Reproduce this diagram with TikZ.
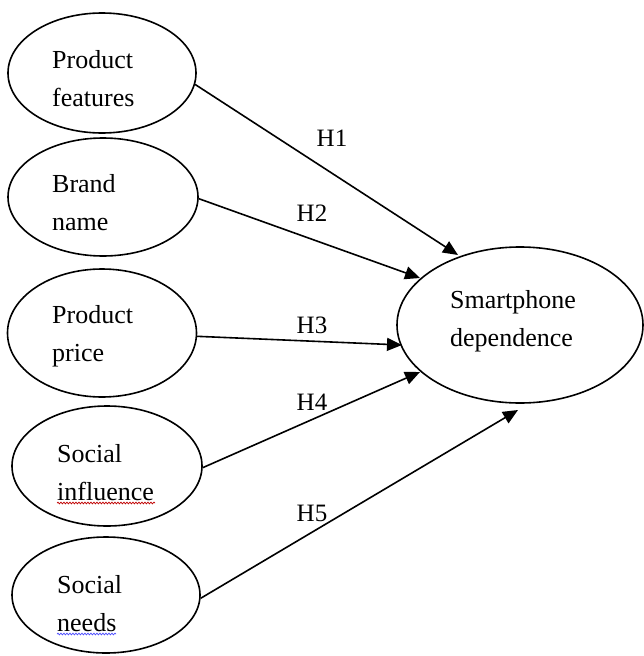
\documentclass[tikz,border=0pt]{standalone}
\usepackage{fontspec}
\setmainfont{Liberation Serif}
\usetikzlibrary{arrows.meta,shapes.geometric,decorations.pathmorphing}
\begin{document}
\begin{tikzpicture}[x=1pt,y=-1pt,
  oval/.style={draw, ellipse, line width=1.6pt, inner sep=0pt},
  lbl/.style={font=\fontsize{26}{38}\selectfont, align=left, inner sep=0pt, anchor=west},
  hlbl/.style={font=\fontsize{25}{30}\selectfont, inner sep=0pt},
  arr/.style={line width=1.6pt, -{Triangle[length=15pt,width=13pt]}},
  wavy/.style={line width=0.7pt, decorate, decoration={snake, amplitude=0.9pt, segment length=3pt}}
]
\useasboundingbox (0,0) rectangle (644,656);
% left ellipses
\node[oval, minimum width=188pt, minimum height=120pt] (pf) at (102,73) {};
\node[oval, minimum width=190pt, minimum height=118pt] (bn) at (103,197) {};
\node[oval, minimum width=189pt, minimum height=128pt] (pp) at (102,333) {};
\node[oval, minimum width=190pt, minimum height=120pt] (si) at (107,466) {};
\node[oval, minimum width=188pt, minimum height=116pt] (sn) at (106,595) {};
% right ellipse
\node[oval, minimum width=246pt, minimum height=156pt] (sd) at (520,325) {};
% texts
\node[lbl] (pft) at (52,79) {Product\\features};
\node[lbl] (bnt) at (52,203) {Brand\\name};
\node[lbl] (ppt) at (52,336) {Product\\price};
\node[lbl] (sit) at (57,473) {Social\\influence};
\node[lbl] (snt) at (57,604) {Social\\needs};
\node[lbl] (sdt) at (450,321) {Smartphone\\dependence};
% spell-check underlines
\draw[wavy, red!75!black] (57,503) -- (155,503);
\draw[wavy, blue!70] (57,634) -- (116,634);
% arrow tips
\coordinate (t1) at (458,255);
\coordinate (t2) at (420,278);
\coordinate (t3) at (402,345);
\coordinate (t4) at (420,372);
\coordinate (t5) at (518,410);
% arrows
\draw[arr] (pf.-7) -- (t1);
\draw[arr] (bn.-1) -- (t2);
\draw[arr] (pp.-2) -- (t3);
\draw[arr] (si.-1) -- (t4);
\draw[arr] (sn.-2) -- (t5);
% hypothesis labels
\node[hlbl] (h1) at (332,138) {H1};
\node[hlbl] (h2) at (312,213) {H2};
\node[hlbl] (h3) at (312,325) {H3};
\node[hlbl] (h4) at (312,402) {H4};
\node[hlbl] (h5) at (312,513) {H5};
\end{tikzpicture}
\end{document}
